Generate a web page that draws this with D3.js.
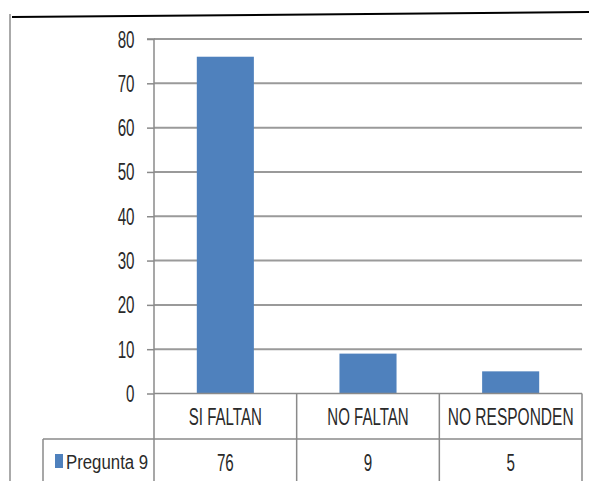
<!DOCTYPE html>
<html><head><meta charset="utf-8">
<script src="https://cdn.jsdelivr.net/npm/d3@7"></script>
<style>
html,body{margin:0;padding:0;background:#fff;}
svg text{font-family:"Liberation Sans",Arial,sans-serif;fill:#2a2a2a;}
</style></head>
<body>
<svg id="c" width="589" height="481"></svg>
<script>
const categories = ["SI FALTAN", "NO FALTAN", "NO RESPONDEN"];
const values = [76, 9, 5];
const seriesName = "Pregunta 9";
const yTicks = [0, 10, 20, 30, 40, 50, 60, 70, 80];

(function () {
const svg = d3.select("#c");
const pLeft = 154, pRight = 582, pTop = 39, pBottom = 393.5;
const x = d3.scaleBand().domain(categories).range([pLeft, pRight]).paddingInner(0.6).paddingOuter(0.3);
const y = d3.scaleLinear().domain([0, 80]).range([pBottom, pTop]);
const step = x.step();
const SX = 0.66;

// condensed text helper
function ctext(g, tx, ty, str, size, sx, anchor) {
  return g.append("text")
    .attr("transform", `translate(${tx},${ty}) scale(${sx},1)`)
    .attr("text-anchor", anchor || "middle")
    .style("font-size", size + "px").text(str);
}

// frame decorations
svg.append("line").attr("x1", 10).attr("x2", 10).attr("y1", 14).attr("y2", 481)
  .attr("stroke", "#aaa").attr("stroke-width", 2);
svg.append("line").attr("x1", 12).attr("y1", 17).attr("x2", 589).attr("y2", 12)
  .attr("stroke", "#000").attr("stroke-width", 2);

// gridlines
svg.append("g").selectAll("line").data(yTicks.filter(d => d > 0)).join("line")
  .attr("x1", pLeft).attr("x2", pRight).attr("y1", d => y(d)).attr("y2", d => y(d))
  .attr("stroke", "#9a9a9a").attr("stroke-width", 2);

// y axis
const yAxis = d3.axisLeft(y).tickValues(yTicks).tickSize(7).tickFormat(d3.format("d"));
const gy = svg.append("g").attr("transform", `translate(${pLeft},0)`).call(yAxis);
gy.select(".domain").attr("stroke", "#8a8a8a").attr("stroke-width", 1.5).attr("d", `M-7,${pTop}H0V${pBottom}`);
gy.selectAll(".tick line").attr("stroke", "#8a8a8a").attr("stroke-width", 1.5);
gy.selectAll(".tick text")
  .style("font-size", "23px").attr("fill", "#2a2a2a")
  .attr("x", null).attr("dy", null)
  .attr("transform", `translate(-19.5,8) scale(${SX},1)`);

// bars
svg.append("g").selectAll("rect").data(values).join("rect")
  .attr("x", (d, i) => x(categories[i]))
  .attr("width", x.bandwidth())
  .attr("y", d => y(d))
  .attr("height", d => y(0) - y(d))
  .attr("fill", "#4f81bd");

// data table
const tbl = svg.append("g");
const lineC = "#8a8a8a";
const rowMid = 439;
tbl.append("line").attr("x1", pLeft).attr("x2", pRight).attr("y1", pBottom).attr("y2", pBottom).attr("stroke", lineC).attr("stroke-width", 1.5);
tbl.append("line").attr("x1", 43).attr("x2", pRight).attr("y1", rowMid).attr("y2", rowMid).attr("stroke", lineC).attr("stroke-width", 1.5);
tbl.append("line").attr("x1", 43).attr("x2", 43).attr("y1", rowMid).attr("y2", 481).attr("stroke", lineC).attr("stroke-width", 1.5);
const vx = [pLeft].concat(categories.map(c => x(c) - step * x.paddingOuter() + step));
tbl.selectAll("line.v").data(vx).join("line").attr("class", "v")
  .attr("x1", d => d).attr("x2", d => d).attr("y1", pBottom).attr("y2", 481)
  .attr("stroke", lineC).attr("stroke-width", 1.5);

categories.forEach((c, i) => {
  const cx = x(c) + x.bandwidth() / 2;
  ctext(tbl, cx, 425, c, 23, i === 2 ? 0.675 : 0.655);
  ctext(tbl, cx, 471, String(values[i]), 23, SX);
});

tbl.append("rect").attr("x", 55).attr("y", 454).attr("width", 8).attr("height", 14).attr("fill", "#4f81bd");
ctext(tbl, 66, 469, seriesName, 21, 0.8, "start");
})();
</script>
</body></html>
